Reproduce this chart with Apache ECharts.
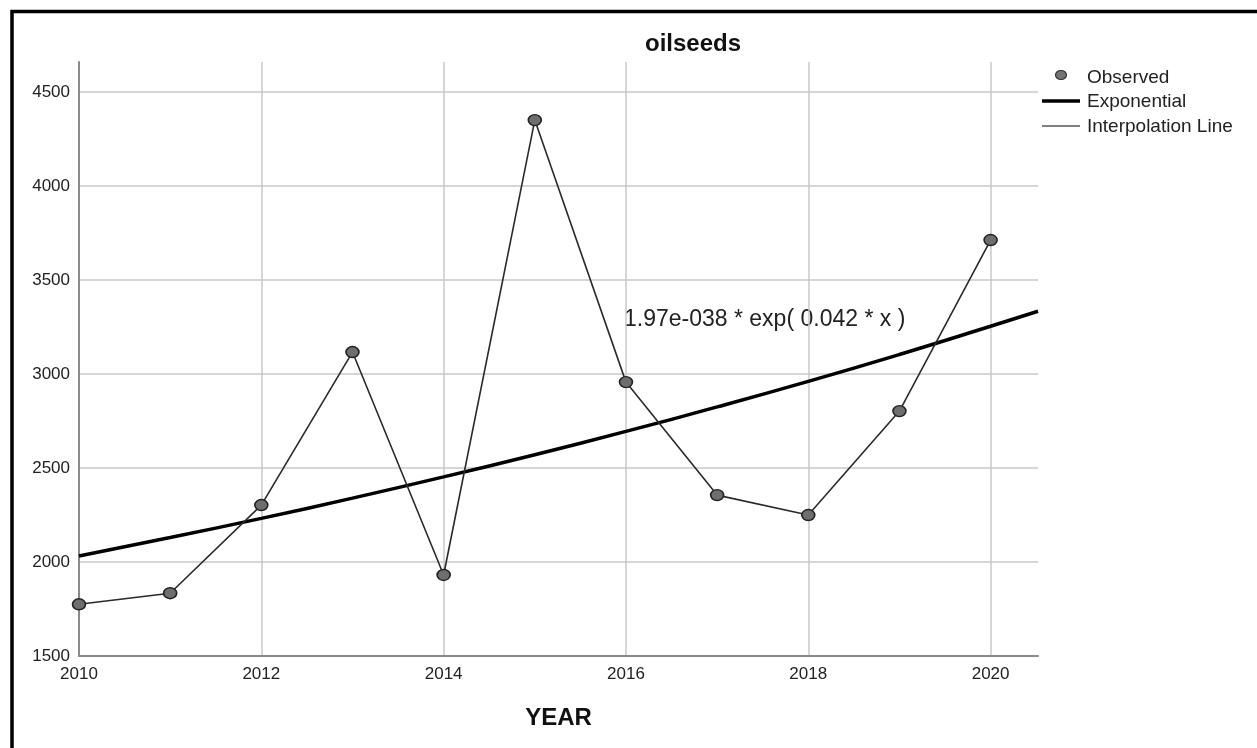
<!DOCTYPE html>
<html>
<head>
<meta charset="utf-8">
<title>oilseeds</title>
<script src="https://cdn.jsdelivr.net/npm/echarts@6/dist/echarts.min.js"></script>
<style>
  html, body { margin: 0; padding: 0; background: #fff; }
  #chart { width: 1257px; height: 748px; }
</style>
</head>
<body>
<div id="chart"></div>
<script>
// Observed oilseeds values by year
const years = [2010, 2011, 2012, 2013, 2014, 2015, 2016, 2017, 2018, 2019, 2020];
const observed = [1775, 1834, 2303, 3117, 1931, 4351, 2957, 2356, 2250, 2803, 3713];

// Exponential fit curve, sampled at each year and at the right edge of the axis
const fitYears = [2010, 2011, 2012, 2013, 2014, 2015, 2016, 2017, 2018, 2019, 2020, 2020.52];
const fitted = [2032, 2130, 2232, 2340, 2453, 2571, 2695, 2825, 2961, 3104, 3254, 3334];

// Axis ranges and labels
const xRange = [2010, 2020.52];
const yRange = [1500, 4660];
const xStep = 2;
const yStep = 500;

const titleText = 'oilseeds';
const xName = 'YEAR';
const equationText = '1.97e-038 * exp( 0.042 * x )';
const legendNames = ['Observed', 'Exponential', 'Interpolation Line'];

const FONT = '"Liberation Sans", Arial, sans-serif';

const chart = echarts.init(document.getElementById('chart'), null, { renderer: 'canvas' });

const observedData = years.map((y, i) => [y, observed[i]]);
const fittedData = fitYears.map((y, i) => [y, fitted[i]]);

const legendX = 1042;
const legendRows = [78, 102, 127];

chart.setOption({
  backgroundColor: '#ffffff',
  animation: false,
  title: {
    text: titleText,
    left: 645,
    top: 32,
    padding: 0,
    textStyle: { fontFamily: FONT, fontSize: 24, fontWeight: 'bold', color: '#111' }
  },
  grid: { left: 79, right: 219, top: 62, bottom: 92 },
  xAxis: {
    type: 'value',
    min: xRange[0],
    max: xRange[1],
    interval: xStep,
    name: xName,
    nameLocation: 'middle',
    nameGap: 50,
    nameTextStyle: { fontFamily: FONT, fontSize: 24, fontWeight: 'bold', color: '#111' },
    axisLine: { show: true, lineStyle: { color: '#8a8a8a', width: 2 } },
    axisTick: { show: false },
    axisLabel: {
      fontFamily: FONT, fontSize: 17, color: '#222', margin: 10,
      showMaxLabel: false,
      formatter: v => String(v)
    },
    splitLine: { show: true, showMaxLine: false, lineStyle: { color: '#c8c8c8', width: 1.5 } }
  },
  yAxis: {
    type: 'value',
    min: yRange[0],
    max: yRange[1],
    interval: yStep,
    axisLine: { show: true, lineStyle: { color: '#8a8a8a', width: 2 } },
    axisTick: { show: false },
    axisLabel: {
      fontFamily: FONT, fontSize: 17, color: '#222', margin: 9,
      showMaxLabel: false,
      formatter: v => String(v)
    },
    splitLine: { show: true, showMaxLine: false, lineStyle: { color: '#c8c8c8', width: 1.5 } }
  },
  series: [
    {
      name: legendNames[1],
      type: 'line',
      data: fittedData,
      smooth: true,
      showSymbol: false,
      lineStyle: { color: '#000', width: 3.5 },
      z: 3
    },
    {
      name: legendNames[2],
      type: 'line',
      data: observedData,
      symbol: 'circle',
      symbolSize: [13, 11],
      showSymbol: true,
      lineStyle: { color: '#2a2a2a', width: 1.6 },
      itemStyle: { color: '#6e6e6e', borderColor: '#222', borderWidth: 1.5 },
      z: 4
    }
  ],
  graphic: [
    // Frame along the left and top edges
    {
      type: 'polyline',
      shape: { points: [[12, 748], [12, 11.5], [1257, 11.5]] },
      style: { stroke: '#000', lineWidth: 3.5, fill: null },
      silent: true
    },
    // Fitted equation label
    {
      type: 'text',
      x: 624,
      y: 320,
      style: {
        text: equationText,
        font: '23px ' + FONT,
        fill: '#222',
        verticalAlign: 'middle'
      },
      silent: true
    },
    // Legend
    {
      type: 'ellipse',
      shape: { cx: legendX + 19, cy: legendRows[0] - 3, rx: 5.5, ry: 4.5 },
      style: { fill: '#737373', stroke: '#333', lineWidth: 1.2 },
      silent: true
    },
    {
      type: 'line',
      shape: { x1: legendX, y1: legendRows[1] - 1, x2: legendX + 38, y2: legendRows[1] - 1 },
      style: { stroke: '#000', lineWidth: 3.5 },
      silent: true
    },
    {
      type: 'line',
      shape: { x1: legendX, y1: legendRows[2] - 1, x2: legendX + 38, y2: legendRows[2] - 1 },
      style: { stroke: '#555', lineWidth: 1.5 },
      silent: true
    },
    ...legendNames.map((name, i) => ({
      type: 'text',
      x: legendX + 45,
      y: legendRows[i],
      style: { text: name, font: '19px ' + FONT, fill: '#222', verticalAlign: 'middle' },
      silent: true
    }))
  ]
});
</script>
</body>
</html>
